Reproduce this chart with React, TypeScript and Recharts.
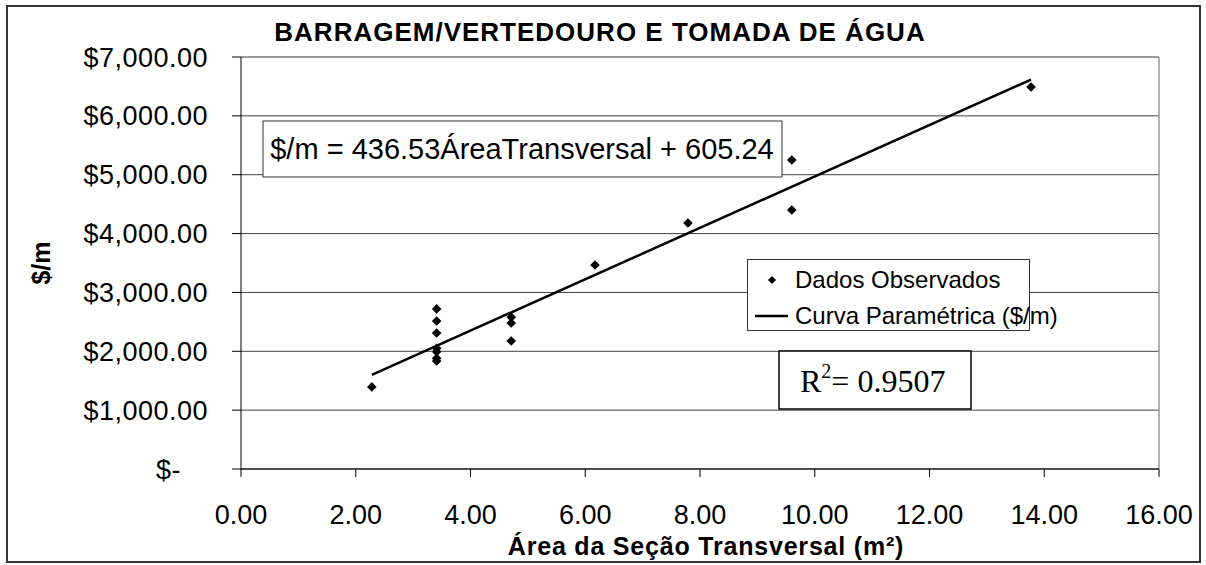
import { ScatterChart, Scatter, XAxis, YAxis, CartesianGrid, ReferenceLine, Legend } from 'recharts';

const areaObs = [2.28, 3.41, 3.41, 3.41, 3.41, 3.41, 3.41, 3.41, 4.71, 4.71, 4.71, 6.17, 7.79, 9.6, 9.6, 13.77];
const costObs = [1395, 2720, 2515, 2310, 2050, 1990, 1880, 1835, 2580, 2480, 2175, 3466, 4180, 5250, 4400, 6490];

const areaFit = [2.28, 13.77];
const costFit = [1600, 6616];

const xTicks = [0, 2, 4, 6, 8, 10, 12, 14, 16];
const yTicks = [0, 1000, 2000, 3000, 4000, 5000, 6000, 7000];

const observed = areaObs.map((x, i) => ({ x, y: costObs[i] }));
const fitted = areaFit.map((x, i) => ({ x, y: costFit[i] }));

const SANS = '"Liberation Sans", Arial, sans-serif';
const SERIF = '"Liberation Serif", "Times New Roman", serif';

const fmtMoney = (v: number) =>
    v === 0 ? '$-' : '$' + v.toLocaleString('en-US', { minimumFractionDigits: 2, maximumFractionDigits: 2 });

const Diamond = (props: any) => {
    const { cx, cy } = props;
    const r = 4.8;
    return <path d={`M${cx},${cy - r}L${cx + r},${cy}L${cx},${cy + r}L${cx - r},${cy}Z`} fill="#000" />;
};

const YTick = (props: any) => {
    const { x, y, payload } = props;
    const shift = payload.value === 0 ? -27 : 0;
    return (
        <text x={x + shift} y={y} dy="0.355em" textAnchor="end" fontFamily={SANS} fontSize={27} letterSpacing={0.5} fill="#000">
            {fmtMoney(payload.value)}
        </text>
    );
};

const LegendBox = (props: any) => {
    // observed points first, fitted line second
    const items = [...(props.payload || [])].sort((a: any, b: any) => (a.type === 'line' ? 1 : 0) - (b.type === 'line' ? 1 : 0));
    return (
        <div style={{ width: 281, height: 70, border: '1px solid #333', background: '#fff', fontFamily: SANS, fontSize: 24, color: '#000' }}>
            {items.map((p: any, i: number) => (
                <div key={i} style={{ position: 'absolute', left: 0, top: 6 + i * 36, height: 30, display: 'flex', alignItems: 'center' }}>
                    <svg width={46} height={30}>
                        {p.type === 'line'
                            ? <line x1={8} y1={15} x2={41} y2={15} stroke="#000" strokeWidth={2.5} />
                            : <path d="M25,11L29,15L25,19L21,15Z" fill="#000" />}
                    </svg>
                    <span style={{ marginLeft: 2, whiteSpace: 'nowrap' }}>{p.value}</span>
                </div>
            ))}
        </div>
    );
};

export default function App() {
    return (
        <div style={{ position: 'absolute', left: 0, top: 0, width: 1206, height: 565, background: '#fff' }}>
            <ScatterChart width={1206} height={565} margin={{ top: 57, right: 47, bottom: 36, left: 0 }}>
                <CartesianGrid horizontal={true} vertical={false} stroke="#404040" strokeWidth={1} />
                <XAxis
                    type="number"
                    dataKey="x"
                    domain={[0, 16]}
                    ticks={xTicks}
                    height={60}
                    tickSize={8}
                    tickMargin={28}
                    stroke="#000"
                    tickFormatter={(v: number) => v.toFixed(2)}
                    tick={{ fill: '#000', fontSize: 27, fontFamily: SANS }}
                />
                <YAxis
                    type="number"
                    dataKey="y"
                    domain={[0, 7000]}
                    ticks={yTicks}
                    width={241}
                    tickSize={9}
                    tickMargin={24}
                    stroke="#000"
                    tick={<YTick />}
                />
                <ReferenceLine x={16} stroke="#999" strokeWidth={1.5} />
                <ReferenceLine y={7000} stroke="#999" strokeWidth={1.5} />
                <Scatter name="Dados Observados" data={observed} shape={<Diamond />} legendType="diamond" isAnimationActive={false} />
                <Scatter
                    name="Curva Paramétrica ($/m)"
                    data={fitted}
                    line={{ stroke: '#000', strokeWidth: 2.5 }}
                    shape={() => null}
                    legendType="line"
                    isAnimationActive={false}
                />
                <Legend
                    layout="vertical"
                    align="center"
                    verticalAlign="middle"
                    content={<LegendBox />}
                    wrapperStyle={{ position: 'absolute', left: 747, top: 259, width: 283, height: 72 }}
                />
            </ScatterChart>
            <svg width={1206} height={565} style={{ position: 'absolute', left: 0, top: 0, pointerEvents: 'none' }}>
                <rect x={7} y={6} width={1193} height={556} fill="none" stroke="#333" strokeWidth={2} />
                <text x={600} y={41} textAnchor="middle" fontFamily={SANS} fontWeight="bold" fontSize={26} letterSpacing={1}>
                    BARRAGEM/VERTEDOURO E TOMADA DE ÁGUA
                </text>
                <text x={706} y={555} textAnchor="middle" fontFamily={SANS} fontWeight="bold" fontSize={25} letterSpacing={0.8}>
                    Área da Seção Transversal (m²)
                </text>
                <text transform="translate(50,263) rotate(-90)" textAnchor="middle" fontFamily={SANS} fontWeight="bold" fontSize={25}>
                    $/m
                </text>
                <rect x={263} y={121} width={519} height={56} fill="#fff" stroke="#333" strokeWidth={1} />
                <text x={522} y={159} textAnchor="middle" fontFamily={SANS} fontSize={29}>
                    $/m = 436.53ÁreaTransversal + 605.24
                </text>
                <rect x={779} y={351} width={192} height={58} fill="#fff" stroke="#000" strokeWidth={1.5} />
                <text x={800} y={392} fontFamily={SERIF} fontSize={32}>
                    R<tspan fontSize={20} dy={-14}>2</tspan><tspan dy={14}>= 0.9507</tspan>
                </text>
            </svg>
        </div>
    );
}
